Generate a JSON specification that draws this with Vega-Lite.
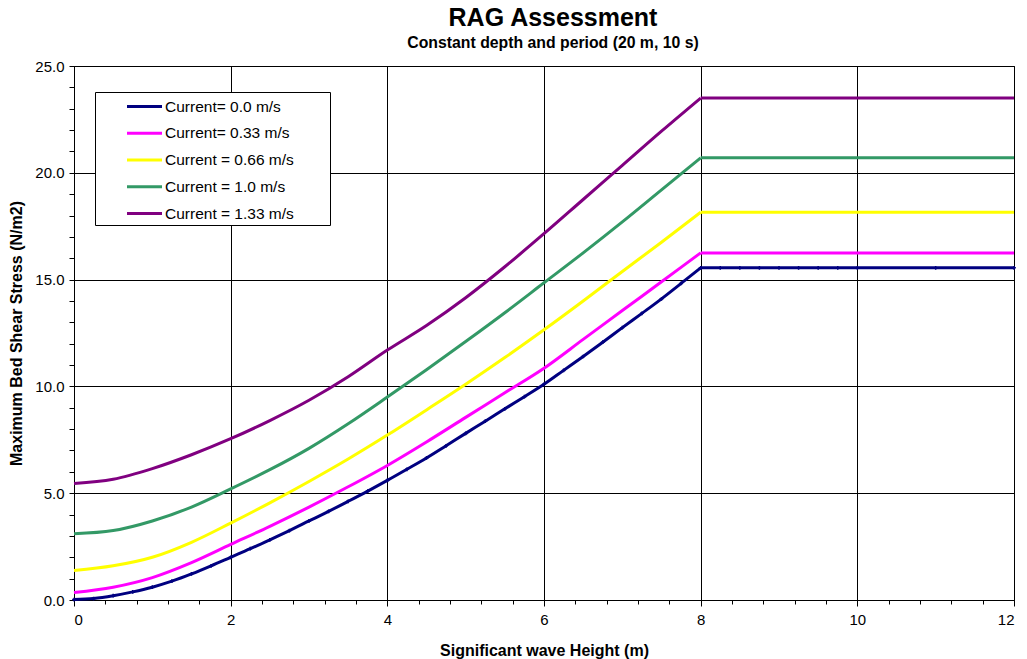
{
  "$schema": "https://vega.github.io/schema/vega-lite/v6.json",
  "width": 940,
  "height": 534,
  "padding": {"left": 8, "top": 6, "right": 10, "bottom": 5},
  "background": "white",
  "config": {
    "font": "Liberation Sans",
    "view": {"stroke": "#000000", "strokeWidth": 1},
    "axis": {"labelFont": "Liberation Sans", "titleFont": "Liberation Sans", "labelFontSize": 15, "titleFontSize": 16, "titleFontWeight": "bold", "labelColor": "black", "titleColor": "black", "domainColor": "#000000", "tickColor": "#000000", "gridColor": "#000000", "gridWidth": 1, "gridOpacity": 1}
  },
  "title": {"text": "RAG Assessment", "subtitle": "Constant depth and period (20 m, 10 s)", "fontSize": 25, "fontWeight": "bold", "subtitleFontSize": 15.8, "subtitleFontWeight": "bold", "font": "Liberation Sans", "subtitleFont": "Liberation Sans", "color": "black", "subtitleColor": "black", "anchor": "middle", "offset": 8, "subtitlePadding": 5, "dx": 9},
  "datasets": {
    "d": [
      {"h":0,"s":"Current= 0.33 m/s","v":0.35},{"h":0.5,"s":"Current= 0.33 m/s","v":0.6},{"h":1,"s":"Current= 0.33 m/s","v":1.05},{"h":1.5,"s":"Current= 0.33 m/s","v":1.75},{"h":2,"s":"Current= 0.33 m/s","v":2.6},{"h":2.5,"s":"Current= 0.33 m/s","v":3.45},{"h":3,"s":"Current= 0.33 m/s","v":4.35},{"h":3.5,"s":"Current= 0.33 m/s","v":5.3},{"h":4,"s":"Current= 0.33 m/s","v":6.3},{"h":4.5,"s":"Current= 0.33 m/s","v":7.4},{"h":5,"s":"Current= 0.33 m/s","v":8.55},{"h":5.5,"s":"Current= 0.33 m/s","v":9.7},{"h":6,"s":"Current= 0.33 m/s","v":10.85},{"h":6.5,"s":"Current= 0.33 m/s","v":12.2},{"h":7,"s":"Current= 0.33 m/s","v":13.55},{"h":7.5,"s":"Current= 0.33 m/s","v":14.9},{"h":8,"s":"Current= 0.33 m/s","v":16.25},{"h":12,"s":"Current= 0.33 m/s","v":16.25},
      {"h":0,"s":"Current = 0.66 m/s","v":1.38},{"h":0.5,"s":"Current = 0.66 m/s","v":1.6},{"h":1,"s":"Current = 0.66 m/s","v":2.0},{"h":1.5,"s":"Current = 0.66 m/s","v":2.7},{"h":2,"s":"Current = 0.66 m/s","v":3.6},{"h":2.5,"s":"Current = 0.66 m/s","v":4.55},{"h":3,"s":"Current = 0.66 m/s","v":5.55},{"h":3.5,"s":"Current = 0.66 m/s","v":6.6},{"h":4,"s":"Current = 0.66 m/s","v":7.72},{"h":4.5,"s":"Current = 0.66 m/s","v":8.9},{"h":5,"s":"Current = 0.66 m/s","v":10.1},{"h":5.5,"s":"Current = 0.66 m/s","v":11.35},{"h":6,"s":"Current = 0.66 m/s","v":12.65},{"h":6.5,"s":"Current = 0.66 m/s","v":14.0},{"h":7,"s":"Current = 0.66 m/s","v":15.38},{"h":7.5,"s":"Current = 0.66 m/s","v":16.75},{"h":8,"s":"Current = 0.66 m/s","v":18.15},{"h":12,"s":"Current = 0.66 m/s","v":18.15},
      {"h":0,"s":"Current = 1.0 m/s","v":3.1},{"h":0.5,"s":"Current = 1.0 m/s","v":3.25},{"h":1,"s":"Current = 1.0 m/s","v":3.7},{"h":1.5,"s":"Current = 1.0 m/s","v":4.35},{"h":2,"s":"Current = 1.0 m/s","v":5.2},{"h":2.5,"s":"Current = 1.0 m/s","v":6.1},{"h":3,"s":"Current = 1.0 m/s","v":7.1},{"h":3.5,"s":"Current = 1.0 m/s","v":8.25},{"h":4,"s":"Current = 1.0 m/s","v":9.5},{"h":4.5,"s":"Current = 1.0 m/s","v":10.78},{"h":5,"s":"Current = 1.0 m/s","v":12.1},{"h":5.5,"s":"Current = 1.0 m/s","v":13.45},{"h":6,"s":"Current = 1.0 m/s","v":14.85},{"h":6.5,"s":"Current = 1.0 m/s","v":16.25},{"h":7,"s":"Current = 1.0 m/s","v":17.7},{"h":7.5,"s":"Current = 1.0 m/s","v":19.2},{"h":8,"s":"Current = 1.0 m/s","v":20.7},{"h":12,"s":"Current = 1.0 m/s","v":20.7},
      {"h":0,"s":"Current = 1.33 m/s","v":5.45},{"h":0.5,"s":"Current = 1.33 m/s","v":5.65},{"h":1,"s":"Current = 1.33 m/s","v":6.15},{"h":1.5,"s":"Current = 1.33 m/s","v":6.8},{"h":2,"s":"Current = 1.33 m/s","v":7.55},{"h":2.5,"s":"Current = 1.33 m/s","v":8.4},{"h":3,"s":"Current = 1.33 m/s","v":9.35},{"h":3.5,"s":"Current = 1.33 m/s","v":10.45},{"h":4,"s":"Current = 1.33 m/s","v":11.7},{"h":4.5,"s":"Current = 1.33 m/s","v":12.85},{"h":5,"s":"Current = 1.33 m/s","v":14.15},{"h":5.5,"s":"Current = 1.33 m/s","v":15.6},{"h":6,"s":"Current = 1.33 m/s","v":17.15},{"h":6.5,"s":"Current = 1.33 m/s","v":18.75},{"h":7,"s":"Current = 1.33 m/s","v":20.35},{"h":7.5,"s":"Current = 1.33 m/s","v":21.95},{"h":8,"s":"Current = 1.33 m/s","v":23.5},{"h":12,"s":"Current = 1.33 m/s","v":23.5},
      {"h":0,"s":"Current= 0.0 m/s","v":0.02},{"h":0.25,"s":"Current= 0.0 m/s","v":0.07},{"h":0.5,"s":"Current= 0.0 m/s","v":0.2},{"h":0.75,"s":"Current= 0.0 m/s","v":0.38},{"h":1,"s":"Current= 0.0 m/s","v":0.6},{"h":1.25,"s":"Current= 0.0 m/s","v":0.88},{"h":1.5,"s":"Current= 0.0 m/s","v":1.22},{"h":1.75,"s":"Current= 0.0 m/s","v":1.6},{"h":2,"s":"Current= 0.0 m/s","v":2.0},{"h":2.25,"s":"Current= 0.0 m/s","v":2.4},{"h":2.5,"s":"Current= 0.0 m/s","v":2.82},{"h":2.75,"s":"Current= 0.0 m/s","v":3.25},{"h":3,"s":"Current= 0.0 m/s","v":3.7},{"h":3.25,"s":"Current= 0.0 m/s","v":4.15},{"h":3.5,"s":"Current= 0.0 m/s","v":4.62},{"h":3.75,"s":"Current= 0.0 m/s","v":5.1},{"h":4,"s":"Current= 0.0 m/s","v":5.6},{"h":4.25,"s":"Current= 0.0 m/s","v":6.12},{"h":4.5,"s":"Current= 0.0 m/s","v":6.65},{"h":4.75,"s":"Current= 0.0 m/s","v":7.22},{"h":5,"s":"Current= 0.0 m/s","v":7.8},{"h":5.25,"s":"Current= 0.0 m/s","v":8.37},{"h":5.5,"s":"Current= 0.0 m/s","v":8.95},{"h":5.75,"s":"Current= 0.0 m/s","v":9.52},{"h":6,"s":"Current= 0.0 m/s","v":10.1},{"h":6.25,"s":"Current= 0.0 m/s","v":10.75},{"h":6.5,"s":"Current= 0.0 m/s","v":11.4},{"h":6.75,"s":"Current= 0.0 m/s","v":12.07},{"h":7,"s":"Current= 0.0 m/s","v":12.75},{"h":7.25,"s":"Current= 0.0 m/s","v":13.42},{"h":7.5,"s":"Current= 0.0 m/s","v":14.1},{"h":7.75,"s":"Current= 0.0 m/s","v":14.82},{"h":8,"s":"Current= 0.0 m/s","v":15.55},{"h":8.25,"s":"Current= 0.0 m/s","v":15.55},{"h":8.5,"s":"Current= 0.0 m/s","v":15.55},{"h":8.75,"s":"Current= 0.0 m/s","v":15.55},{"h":9,"s":"Current= 0.0 m/s","v":15.55},{"h":9.25,"s":"Current= 0.0 m/s","v":15.55},{"h":9.5,"s":"Current= 0.0 m/s","v":15.55},{"h":9.75,"s":"Current= 0.0 m/s","v":15.55},{"h":10,"s":"Current= 0.0 m/s","v":15.55},{"h":11,"s":"Current= 0.0 m/s","v":15.55},{"h":12,"s":"Current= 0.0 m/s","v":15.55}
    ]
  },
  "data": {"name": "d"},
  "encoding": {
    "x": {"field": "h", "type": "quantitative", "scale": {"domain": [0, 12], "nice": false},
      "axis": {"title": "Significant wave Height (m)", "values": [0,0.4,0.8,1.2,1.6,2,2.4,2.8,3.2,3.6,4,4.4,4.8,5.2,5.6,6,6.4,6.8,7.2,7.6,8,8.4,8.8,9.2,9.6,10,10.4,10.8,11.2,11.6,12],
        "labelExpr": "abs(datum.value % 2) < 0.001 ? format(datum.value, 'd') : ''", "labelOverlap": false, "labelPadding": 6, "titlePadding": 15,
        "tickSize": {"condition": {"test": "abs(datum.value % 2) < 0.001", "value": 6}, "value": 4},
        "gridOpacity": {"condition": {"test": "abs(datum.value % 2) < 0.001", "value": 1}, "value": 0}}},
    "y": {"field": "v", "type": "quantitative", "scale": {"domain": [0, 25], "nice": false},
      "axis": {"title": "Maximum Bed Shear Stress (N/m2)", "values": [0,1,2,3,4,5,6,7,8,9,10,11,12,13,14,15,16,17,18,19,20,21,22,23,24,25],
        "labelExpr": "datum.value % 5 === 0 ? format(datum.value, '.1f') : ''", "labelOverlap": false, "labelPadding": 5, "titlePadding": 10,
        "tickSize": 5,
        "gridOpacity": {"condition": {"test": "datum.value % 5 === 0", "value": 1}, "value": 0}}},
    "color": {"field": "s", "type": "nominal",
      "scale": {"domain": ["Current= 0.0 m/s", "Current= 0.33 m/s", "Current = 0.66 m/s", "Current = 1.0 m/s", "Current = 1.33 m/s"], "range": ["#000080", "#FF00FF", "#FFFF00", "#339966", "#800080"]},
      "legend": {"title": "\u00a0", "titleOrient": "right", "titlePadding": 33, "titleFontSize": 6, "orient": "none", "legendX": 21, "legendY": 26, "fillColor": "white", "strokeColor": "black", "padding": 3, "symbolType": "M-1.75,0H1.75", "symbolSize": 400, "symbolStrokeWidth": 3, "symbolFillColor": "transparent", "symbolOffset": 35, "labelFontSize": 15.5, "labelFont": "Liberation Sans", "labelColor": "black", "labelOffset": 9, "rowPadding": 6.75}}
  },
  "layer": [
    {"transform": [{"filter": "datum.h <= 8"}], "mark": {"type": "line", "strokeWidth": 3, "interpolate": "monotone"}},
    {"transform": [{"filter": "datum.h >= 8"}], "mark": {"type": "line", "strokeWidth": 3}},
    {"transform": [{"filter": {"field": "s", "equal": "Current= 0.0 m/s"}}],
     "mark": {"type": "point", "shape": "cross", "filled": true, "size": 14, "opacity": 1}}
  ]
}
